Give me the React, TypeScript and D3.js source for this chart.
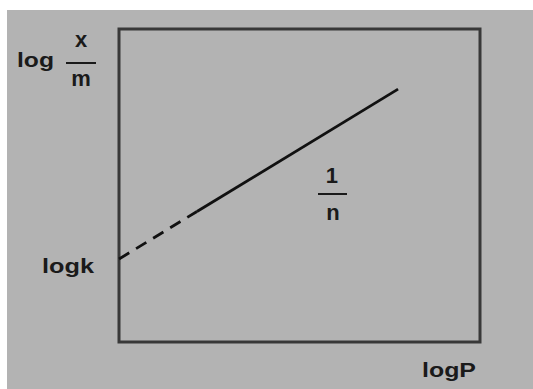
import React from 'react'
import * as d3 from 'd3'

// freundlich isotherm sketch: log(x/m) vs logP, in axis fractions
const logP = [0, 0.216, 0.773]
const logXm = [0.265, 0.417, 0.808]
const extrapolated = [true, false] // segment i -> i+1 is dashed when true

const W = 533
const H = 389
const margin = { top: 29, right: 53, bottom: 47, left: 119 }

const App = () => {
  const width = W - margin.left - margin.right
  const height = H - margin.top - margin.bottom

  const xScale = d3.scaleLinear().domain([0, 1]).range([0, width])
  const yScale = d3.scaleLinear().domain([0, 1]).range([height, 0])

  const line = d3
    .line<number>()
    .x((i) => xScale(logP[i]))
    .y((i) => yScale(logXm[i]))

  const font = "'Liberation Sans', Arial, Helvetica, sans-serif"

  return (
    <svg
      width={W}
      height={H}
      style={{ position: 'absolute', left: 0, top: 0, display: 'block' }}
      fontFamily={font}
      fontWeight="bold"
    >
      <rect x={0} y={0} width={W} height={H} fill="#ffffff" />
      <rect x={7} y={10} width={W - 7} height={H - 10} fill="#b3b3b3" />
      <g transform={`translate(${margin.left}, ${margin.top})`}>
        <rect x={0} y={0} width={width} height={height} fill="none" stroke="#383838" strokeWidth={3} />
        {extrapolated.map((dashed, i) => (
          <path
            key={i}
            d={line([i, i + 1]) || ''}
            fill="none"
            stroke="#111"
            strokeWidth={2.8}
            strokeDasharray={dashed ? '12,8' : undefined}
          />
        ))}
        {/* slope label */}
        <g transform={`translate(${xScale(0.59)}, 0)`} fill="#1a1a1a" textAnchor="middle" fontSize={22}>
          <text x={0} y={154}>1</text>
          <line x1={-14} x2={15} y1={165} y2={165} stroke="#1a1a1a" strokeWidth={2} />
          <text x={1} y={191}>n</text>
        </g>
      </g>
      {/* y label */}
      <g fill="#1a1a1a" fontSize={21}>
        <text x={17} y={67} textLength={37} lengthAdjust="spacingAndGlyphs">log</text>
        <text x={81} y={47} fontSize={22} textAnchor="middle">x</text>
        <line x1={66} x2={96} y1={63} y2={63} stroke="#1a1a1a" strokeWidth={2} />
        <text x={81} y={86} fontSize={22} textAnchor="middle">m</text>
        <text x={42} y={273} textLength={52} lengthAdjust="spacingAndGlyphs">logk</text>
        <text x={422} y={377} textLength={54} lengthAdjust="spacingAndGlyphs">logP</text>
      </g>
    </svg>
  )
}

export default App
